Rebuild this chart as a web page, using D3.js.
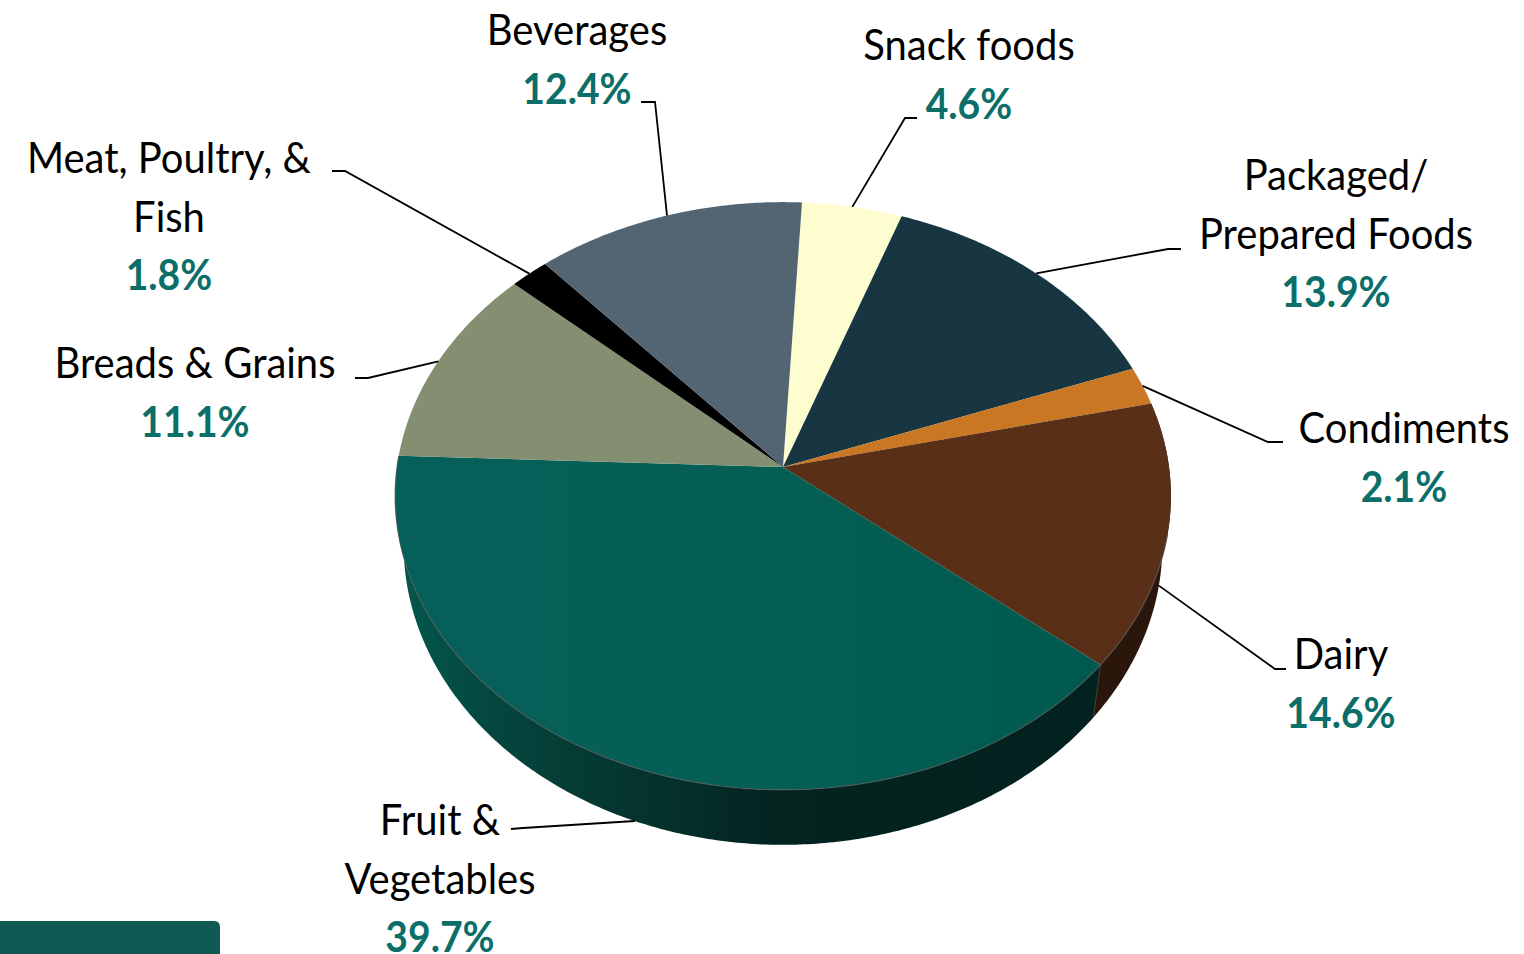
<!DOCTYPE html>
<html>
<head>
<meta charset="utf-8">
<script src="https://cdn.jsdelivr.net/npm/d3@7/dist/d3.min.js"></script>
<style>
  html, body { margin: 0; padding: 0; background: #fff; overflow: hidden; }
  svg { display: block; }
  text { font-family: Lato, "Noto Sans", sans-serif; text-anchor: middle; }
</style>
</head>
<body>
<svg id="chart" width="1524" height="954"></svg>
<script>
// Share of food spending by category, clockwise from the top of the pie.
const categories = ["Snack foods", "Packaged/ Prepared Foods", "Condiments", "Dairy", "Fruit & Vegetables", "Breads & Grains", "Meat, Poultry, & Fish", "Beverages"];
const shares = [4.6, 13.9, 2.1, 14.6, 39.7, 11.1, 1.8, 12.4];
const sliceColors = ["#fdfdd0", "#173642", "#c97722", "#5a2f18", "url(#fruitTop)", "#838f70", "#000000", "#536573"];
const wallColors = ["#fdfdd0", "#173642", "#c97722", "#2a160a", "url(#fruitWall)", "#838f70", "#000000", "#536573"];
const labelLines = [["Snack foods"], ["Packaged/", "Prepared Foods"], ["Condiments"], ["Dairy"], ["Fruit &", "Vegetables"], ["Breads & Grains"], ["Meat, Poultry, &", "Fish"], ["Beverages"]];

// Label block placement: centre x, first baseline, and leader elbow and end.
const labelCentre = [969, 1336, 1404, 1341, 440, 195, 169, 577];
const firstBaseline = [60, 190, 443, 669, 835, 378, 173, 45];
const lineStep = 58.5;
const leaderElbow = [[905, 118], [1168, 249], [1268, 442], [1275, 669], [523, 828], [368, 378], [345, 171], [655, 102]];
const leaderEnd = [[917, 118], [1181, 249], [1283, 442], [1286, 669], [511, 829], [355, 378], [332, 171], [641, 102]];

const TEXT_SQUEEZE = 0.93;
const svg = d3.select("#chart");

// Perspective view of the pie disc: the unit circle is projected on the screen.
const apex = { x: 783, y: 467 };
const tilt = 0.0986, spanX = 386, spanY = 291;
function project(angle) {
  const X = Math.sin(angle), Y = -Math.cos(angle), w = 1 - tilt * Y;
  return [apex.x + spanX * X / w, apex.y + spanY * Y / w];
}
// The lower rim of the extruded disc.
const lowerX = d3.scaleLinear().domain([apex.x, apex.x + 100]).range([apex.x, apex.x + 97.8]);
const lowerY = d3.scaleLinear().domain([0, 100]).range([39.2, 141.2]);
const lower = p => [lowerX(p[0]), lowerY(p[1])];

const startOffset = 3.1 * Math.PI / 180;
const arcs = d3.pie().sort(null).startAngle(startOffset).endAngle(startOffset + 2 * Math.PI)(shares);

function rim(a0, a1) {
  const n = Math.max(2, Math.ceil((a1 - a0) / 0.01));
  return d3.range(n + 1).map(i => project(a0 + (a1 - a0) * i / n));
}
const line = d3.line();

const defs = svg.append("defs");
function hGradient(id, x1, x2, stops) {
  const g = defs.append("linearGradient").attr("id", id).attr("gradientUnits", "userSpaceOnUse")
    .attr("x1", x1).attr("x2", x2).attr("y1", 0).attr("y2", 0);
  stops.forEach(([o, c]) => g.append("stop").attr("offset", o).attr("stop-color", c));
}
hGradient("fruitTop", 395, 1100, [[0, "#06605a"], [0.5, "#065f55"], [1, "#00594f"]]);
hGradient("fruitWall", 400, 1100, [[0, "#04574d"], [0.15, "#04453d"], [0.35, "#05332e"], [0.55, "#03231f"], [1, "#02221f"]]);

// Corner tab of the slide template.
const tab = d3.path();
tab.moveTo(0, 921); tab.lineTo(214, 921); tab.quadraticCurveTo(220, 921, 220, 927); tab.lineTo(220, 954); tab.lineTo(0, 954); tab.closePath();
svg.append("path").attr("d", tab.toString()).attr("fill", "#0f5a52");

// Side walls first, the top surface covers whatever faces backwards.
svg.append("g").selectAll("path").data(arcs.filter(d => d.index === 3 || d.index === 4)).join("path")
  .attr("d", d => {
    const top = rim(d.startAngle, d.endAngle);
    return line(top.concat(top.map(lower).reverse())) + "Z";
  })
  .attr("fill", d => wallColors[d.index]);
svg.append("g").selectAll("line").data(arcs.filter(d => d.index === 4)).join("line")
  .each(function (d) {
    const a = project(d.startAngle), b = lower(a);
    d3.select(this).attr("x1", a[0]).attr("y1", a[1]).attr("x2", b[0]).attr("y2", b[1]);
  })
  .attr("stroke", "#3a3a36").attr("stroke-width", 1);

// Top surface slices.
svg.append("g").selectAll("path").data(arcs).join("path")
  .attr("d", d => line([[apex.x, apex.y]].concat(rim(d.startAngle, d.endAngle))) + "Z")
  .attr("fill", d => sliceColors[d.index]);

// Thin highlight where the top meets the walls.
svg.append("path")
  .attr("d", line(rim(arcs[3].startAngle + 0.45, arcs[4].endAngle)))
  .attr("fill", "none").attr("stroke", "#55575a").attr("stroke-opacity", 0.7).attr("stroke-width", 1.2);

// Leader lines start at the slice's middle angle, on the wall for the front slices.
const leaders = arcs.map(d => {
  const mid = (d.startAngle + d.endAngle) / 2;
  const p = project(mid);
  const anchor = (d.index === 3 || d.index === 4) ? lower(p) : p;
  return [anchor, leaderElbow[d.index], leaderEnd[d.index]];
});
svg.append("g").selectAll("path").data(leaders).join("path")
  .attr("d", line).attr("fill", "none").attr("stroke", "#000").attr("stroke-width", 1.8);

// Category names with the share underneath.
const labels = svg.append("g");
function addText(str, x, y, bold) {
  const t = labels.append("text").attr("x", x).attr("y", y).text(str)
    .attr("font-size", bold ? 42 : 43)
    .attr("font-weight", bold ? 700 : 400)
    .attr("fill", bold ? "#0b6e68" : "#000");
  const w = t.node().getComputedTextLength();
  t.attr("textLength", w * TEXT_SQUEEZE).attr("lengthAdjust", "spacingAndGlyphs");
}
categories.forEach((c, i) => {
  const lines = labelLines[i];
  lines.forEach((s, j) => addText(s, labelCentre[i], firstBaseline[i] + j * lineStep, false));
  addText(d3.format(".1f")(shares[i]) + "%", labelCentre[i], firstBaseline[i] + lines.length * lineStep, true);
});
</script>
</body>
</html>
